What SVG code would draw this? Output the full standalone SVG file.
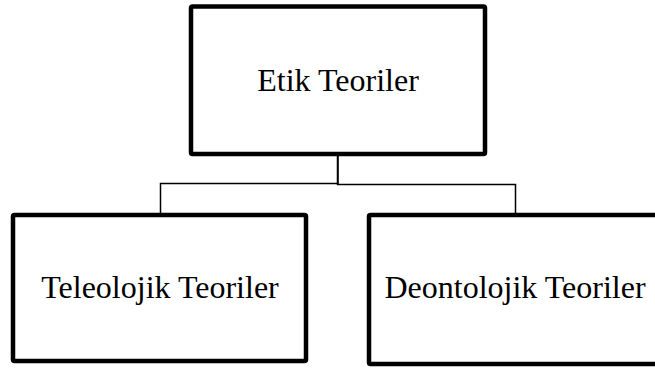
<svg xmlns="http://www.w3.org/2000/svg" width="655" height="369" viewBox="0 0 655 369">
<style>
.box{fill:#fff;stroke:#000;stroke-width:4.5;stroke-linejoin:round}
.lbl{font-family:"Liberation Serif","Times New Roman",serif;font-size:32px;fill:#000;text-anchor:middle}
.conn{fill:none;stroke:#000;stroke-width:1.5}
</style>
<rect width="655" height="369" fill="#fff"/>
<g id="connectors">
<path class="conn" d="M338,156 V183.5 H160.5 V213"/>
<path class="conn" d="M337.5,156 V184.5 H515.5 V213"/>
</g>
<g id="node-etik">
<rect class="box" x="191" y="6.5" width="294" height="147.5" rx="1.5"/>
<text class="lbl" x="338" y="91">Etik Teoriler</text>
</g>
<g id="node-teleolojik">
<rect class="box" x="13" y="215" width="293" height="146" rx="1.5"/>
<text class="lbl" x="160" y="298">Teleolojik Teoriler</text>
</g>
<g id="node-deontolojik">
<rect class="box" x="369" y="215" width="300" height="149" rx="1.5"/>
<text class="lbl" x="515" y="298">Deontolojik Teoriler</text>
</g>
</svg>
